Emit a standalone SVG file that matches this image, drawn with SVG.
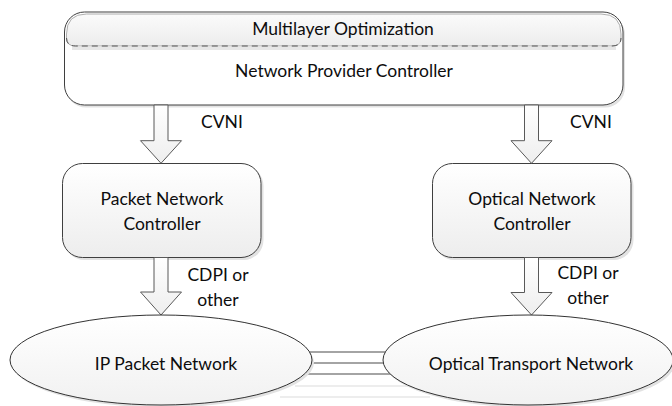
<svg xmlns="http://www.w3.org/2000/svg" width="672" height="406" viewBox="0 0 672 406">
  <defs>
    <linearGradient id="bandFill" x1="0" y1="0" x2="0" y2="1">
      <stop offset="0" stop-color="#fbfbfb"/>
      <stop offset="1" stop-color="#ececec"/>
    </linearGradient>
    <linearGradient id="boxFill" x1="0" y1="0" x2="0" y2="1">
      <stop offset="0" stop-color="#ffffff"/>
      <stop offset="1" stop-color="#ededed"/>
    </linearGradient>
    <linearGradient id="ovalFill" x1="0" y1="0" x2="0" y2="1">
      <stop offset="0" stop-color="#ffffff"/>
      <stop offset="1" stop-color="#f1f1f1"/>
    </linearGradient>
    <linearGradient id="arrowFill" x1="0" y1="0" x2="0" y2="1">
      <stop offset="0" stop-color="#ffffff"/>
      <stop offset="1" stop-color="#eeeeee"/>
    </linearGradient>
  </defs>
  <style>
    text { font-family: Lato, "Open Sans", "Liberation Sans", sans-serif; font-size: 17.5px; fill: #0d0d0d; text-anchor: middle; }
    .lbl { text-anchor: start; }
    .shadow { fill: #e2e2e2; stroke: none; }
    .box { fill: url(#boxFill); stroke: #3f3f3f; stroke-width: 1; }
    .oval { fill: url(#ovalFill); stroke: #333333; stroke-width: 1; }
    .arrow { fill: url(#arrowFill); stroke: #595959; stroke-width: 1; stroke-linejoin: miter; }
    .link { stroke: #4a4a4a; stroke-width: 1.2; fill: none; }
    .link-faint { stroke: #dcdcdc; stroke-width: 1.2; fill: none; }
  </style>

  <rect width="672" height="406" fill="#ffffff"/>

  <!-- network provider controller with multilayer optimization band -->
  <g id="npc">
    <rect class="shadow" x="66" y="14.5" width="559" height="93" rx="20"/>
    <rect x="64.5" y="12" width="558.5" height="93" rx="20" fill="#ffffff" stroke="#3f3f3f" stroke-width="1"/>
    <path d="M66.5,34 Q66.5,14 86.5,14 H601 Q621,14 621,34 V38 Q621,46 612,46 H75.5 Q66.5,46 66.5,38 Z" fill="url(#bandFill)" stroke="#9a9a9a" stroke-width="0.8"/>
    <rect x="72" y="46.5" width="544" height="3.5" fill="#e6e6e6"/>
    <path d="M66.5,38 Q66.5,46 75.5,46 H612 Q621,46 621,38" fill="none" stroke="#555555" stroke-width="1" stroke-dasharray="6,4"/>
    <text x="343" y="35">Multilayer Optimization</text>
    <text x="344" y="77">Network Provider Controller</text>
  </g>

  <!-- packet network controller -->
  <g id="pnc">
    <rect class="shadow" x="64.5" y="166" width="199" height="94" rx="20"/>
    <rect class="box" x="62.5" y="163.5" width="198.5" height="94" rx="20"/>
    <text x="162" y="204.5">Packet Network</text>
    <text x="162" y="230">Controller</text>
  </g>

  <!-- optical network controller -->
  <g id="onc">
    <rect class="shadow" x="434.5" y="166" width="199" height="94" rx="20"/>
    <rect class="box" x="432.5" y="163.5" width="198.5" height="94" rx="20"/>
    <text x="532" y="204.5">Optical Network</text>
    <text x="532" y="230">Controller</text>
  </g>

  <!-- links between the two networks, and the interface arrows -->
  <g id="connectors">
    <line class="link-faint" x1="280" y1="397" x2="430" y2="397"/>
    <line class="link-faint" x1="295" y1="386" x2="418" y2="386"/>
    <line class="link" x1="300" y1="352" x2="395" y2="352"/>
    <line class="link" x1="300" y1="363" x2="395" y2="363"/>
    <line class="link" x1="300" y1="374" x2="395" y2="374"/>

    <path class="arrow" d="M154,105 V140.7 H140.5 L161,163.3 L181.5,140.7 H168 V105 Z"/>
    <path class="arrow" d="M524.5,105 V140.7 H511 L531.5,163.3 L552,140.7 H538.5 V105 Z"/>
    <path class="arrow" d="M154,257.5 V292 H140.5 L161,315 L181.5,292 H168 V257.5 Z"/>
    <path class="arrow" d="M524.5,257.5 V292.5 H511 L531.5,315 L552,292.5 H538.5 V257.5 Z"/>
    <text class="lbl" x="201" y="128">CVNI</text>
    <text class="lbl" x="570" y="128">CVNI</text>
    <text x="218" y="281">CDPI or</text>
    <text x="218" y="306">other</text>
    <text x="588" y="279">CDPI or</text>
    <text x="588" y="304">other</text>
  </g>

  <!-- IP packet network -->
  <g id="ipn">
    <ellipse class="shadow" cx="163" cy="362.5" rx="151" ry="45"/>
    <ellipse class="oval" cx="161" cy="360" rx="151" ry="45"/>
    <text x="166" y="370">IP Packet Network</text>
  </g>

  <!-- optical transport network -->
  <g id="otn">
    <ellipse class="shadow" cx="530" cy="362.5" rx="145" ry="45"/>
    <ellipse class="oval" cx="528" cy="360" rx="145" ry="45"/>
    <text x="531" y="370">Optical Transport Network</text>
  </g>
</svg>
